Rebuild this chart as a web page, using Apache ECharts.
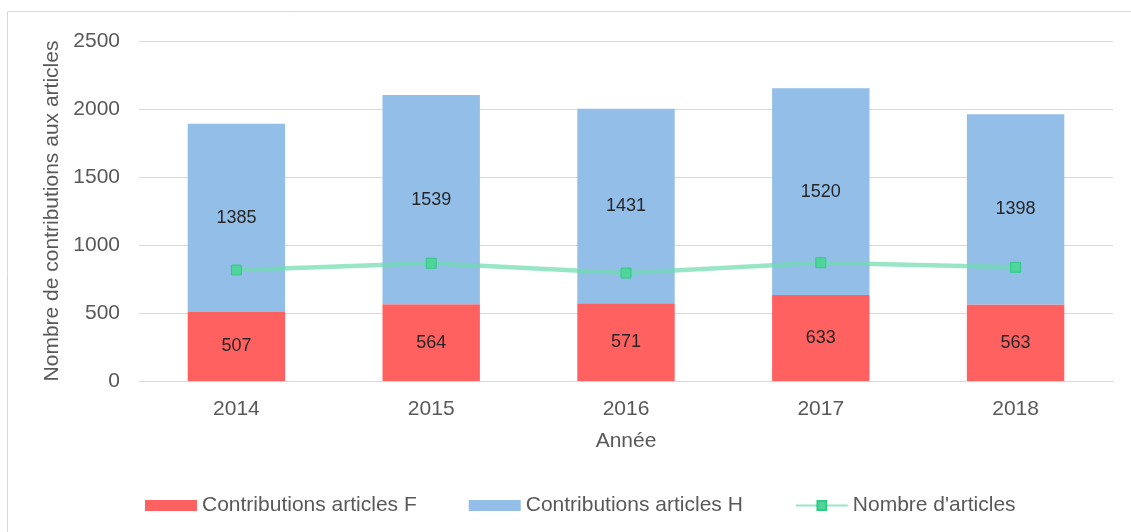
<!DOCTYPE html>
<html>
<head>
<meta charset="utf-8">
<script src="https://cdn.jsdelivr.net/npm/echarts@6/dist/echarts.min.js"></script>
<style>
html,body{margin:0;padding:0;background:#fff;}
#c{width:1131px;height:532px;}
</style>
</head>
<body>
<div id="c"></div>
<script>
var years = ['2014', '2015', '2016', '2017', '2018'];
var contribF = [507, 564, 571, 633, 563];
var contribH = [1385, 1539, 1431, 1520, 1398];
var nbArticles = [816, 866, 794, 870, 836];
var yTicks = [0, 500, 1000, 1500, 2000, 2500];

var chart = echarts.init(document.getElementById('c'), null, {renderer: 'canvas'});
var font = 'Liberation Sans, Arial, sans-serif';
chart.setOption({
  animation: false,
  textStyle: {fontFamily: font},
  graphic: [{
    type: 'rect', shape: {x: 7.5, y: 11.5, width: 1140, height: 540},
    style: {fill: 'none', stroke: '#D9D9D9', lineWidth: 1}, silent: true, z: -1
  }],
  grid: {left: 139, right: 18, top: 41, bottom: 151},
  legend: {
    bottom: 11, left: 140,
    itemWidth: 52, itemHeight: 11, itemGap: 52,
    textStyle: {fontSize: 21, color: '#595959', fontFamily: font},
    data: [
      {name: 'Contributions articles F', icon: 'rect'},
      {name: 'Contributions articles H', icon: 'rect'},
      {name: "Nombre d'articles"}
    ]
  },
  xAxis: {
    type: 'category', data: years,
    name: 'Année', nameLocation: 'middle', nameGap: 50,
    nameTextStyle: {fontSize: 21, color: '#595959'},
    axisLine: {lineStyle: {color: '#D9D9D9', width: 1}},
    axisTick: {show: false},
    axisLabel: {fontSize: 21, color: '#595959', margin: 18}
  },
  yAxis: {
    type: 'value', min: yTicks[0], max: yTicks[yTicks.length - 1], interval: 500,
    name: 'Nombre de contributions aux articles', nameLocation: 'middle', nameGap: 75,
    nameTextStyle: {fontSize: 21, color: '#595959'},
    axisLine: {show: false}, axisTick: {show: false},
    splitLine: {lineStyle: {color: '#D9D9D9', width: 1}},
    axisLabel: {fontSize: 21, color: '#595959', margin: 19, formatter: function (v) { return String(v); }}
  },
  series: [
    {
      name: 'Contributions articles F', type: 'bar', stack: 'c', data: contribF,
      barWidth: '50%', itemStyle: {color: '#FF6161'},
      label: {show: true, position: 'inside', fontSize: 18, color: '#262626'}
    },
    {
      name: 'Contributions articles H', type: 'bar', stack: 'c', data: contribH,
      barWidth: '50%', itemStyle: {color: '#93BEE8'},
      label: {show: true, position: 'inside', fontSize: 18, color: '#262626'}
    },
    {
      name: "Nombre d'articles", type: 'line', data: nbArticles,
      symbol: 'rect', symbolSize: 10, z: 5,
      lineStyle: {color: 'rgba(110,220,175,0.7)', width: 4.5},
      itemStyle: {color: '#4FD49B', borderColor: '#2FCB85', borderWidth: 1}
    }
  ]
});
</script>
</body>
</html>
